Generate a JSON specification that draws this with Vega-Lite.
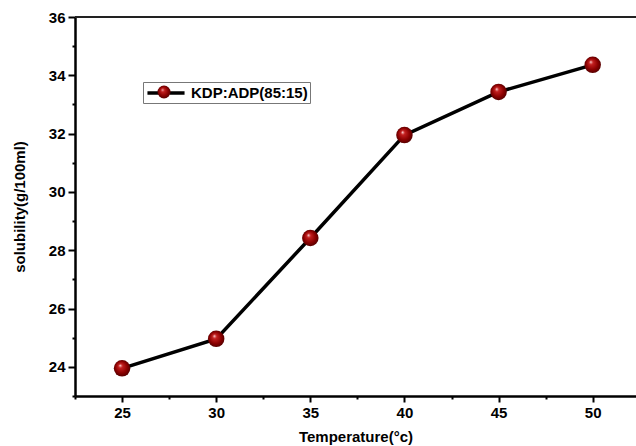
{
  "$schema": "https://vega.github.io/schema/vega-lite/v6.json",
  "width": 561,
  "height": 379,
  "autosize": {"type": "none"},
  "padding": {"left": 75, "top": 17, "right": 0, "bottom": 50},
  "background": "white",
  "config": {
    "view": {"stroke": null},
    "font": "Liberation Sans",
    "axis": {
      "labelFont": "Liberation Sans",
      "labelFontWeight": "bold",
      "labelFontSize": 15,
      "labelColor": "black",
      "titleFont": "Liberation Sans",
      "titleFontWeight": "bold",
      "titleFontSize": 15,
      "titleColor": "black",
      "domainColor": "black",
      "domainWidth": 2.5,
      "tickColor": "black",
      "tickWidth": 2,
      "grid": false
    },
    "legend": {
      "labelFont": "Liberation Sans",
      "labelFontWeight": "bold",
      "labelFontSize": 15,
      "labelColor": "black"
    }
  },
  "data": {
    "values": [
      {"temperature": 25, "solubility": 23.95, "series": "KDP:ADP(85:15)"},
      {"temperature": 30, "solubility": 24.96, "series": "KDP:ADP(85:15)"},
      {"temperature": 35, "solubility": 28.42, "series": "KDP:ADP(85:15)"},
      {"temperature": 40, "solubility": 31.95, "series": "KDP:ADP(85:15)"},
      {"temperature": 45, "solubility": 33.43, "series": "KDP:ADP(85:15)"},
      {"temperature": 50, "solubility": 34.36, "series": "KDP:ADP(85:15)"}
    ]
  },
  "encoding": {
    "x": {
      "field": "temperature",
      "type": "quantitative",
      "scale": {"domain": [22.5, 52.3], "nice": false, "zero": false},
      "axis": {
        "title": "Temperature(°c)",
        "values": [22.5, 25, 27.5, 30, 32.5, 35, 37.5, 40, 42.5, 45, 47.5, 50],
        "labelExpr": "datum.value % 5 === 0 ? datum.label : ''",
        "tickSize": {"condition": {"test": "datum.value % 5 === 0", "value": 6}, "value": 3},
        "labelPadding": 3,
        "titlePadding": 9
      }
    },
    "y": {
      "field": "solubility",
      "type": "quantitative",
      "scale": {"domain": [23, 36], "nice": false, "zero": false},
      "axis": {
        "title": "solubility(g/100ml)",
        "values": [23, 24, 25, 26, 27, 28, 29, 30, 31, 32, 33, 34, 35, 36],
        "labelExpr": "datum.value % 2 === 0 ? datum.label : ''",
        "tickSize": {"condition": {"test": "datum.value % 2 === 0", "value": 7}, "value": 3},
        "labelPadding": 3,
        "titlePadding": 21
      }
    }
  },
  "layer": [
    {
      "mark": {"type": "rule", "color": "#222222", "strokeWidth": 2},
      "encoding": {"y": {"datum": 36}, "x": null}
    },
    {
      "mark": {"type": "line", "strokeWidth": 3.5},
      "encoding": {
        "stroke": {
          "field": "series",
          "type": "nominal",
          "scale": {"range": ["black"]},
          "legend": {
            "title": null,
            "orient": "none",
            "legendX": 68,
            "legendY": 65,
            "padding": 2,
            "strokeColor": "#777777",
            "fillColor": null,
            "symbolType": "M-2.65,0H-0.5M0.5,0H2.65",
            "symbolSize": 196,
            "symbolOffset": 12,
            "symbolStrokeWidth": 3.5,
            "symbolFillColor": "transparent",
            "labelOffset": 16
          }
        }
      }
    },
    {
      "mark": {
        "type": "point",
        "filled": true,
        "size": 272,
        "opacity": 1,
        "fill": {
          "gradient": "radial",
          "x1": 0.38, "y1": 0.32, "r1": 0,
          "x2": 0.5, "y2": 0.5, "r2": 0.55,
          "stops": [
            {"offset": 0, "color": "#ffdede"},
            {"offset": 0.22, "color": "#c42020"},
            {"offset": 0.65, "color": "#8a0000"},
            {"offset": 1, "color": "#4a0000"}
          ]
        }
      },
      "encoding": {
        "shape": {
          "field": "series",
          "type": "nominal",
          "scale": {"domain": ["KDP:ADP(85:15)"], "range": ["circle"]},
          "legend": {
            "title": null,
            "orient": "none",
            "legendX": 82.5,
            "legendY": 68.5,
            "padding": 0,
            "symbolSize": 169,
            "symbolStrokeWidth": 0,
            "labelOpacity": 0,
            "labelFontSize": 1,
            "encode": {
              "symbols": {
                "update": {
                  "opacity": {"value": 1},
                  "fill": {"value": {
                    "gradient": "radial",
                    "x1": 0.38, "y1": 0.32, "r1": 0,
                    "x2": 0.5, "y2": 0.5, "r2": 0.55,
                    "stops": [
                      {"offset": 0, "color": "#ffdede"},
                      {"offset": 0.22, "color": "#c42020"},
                      {"offset": 0.65, "color": "#8a0000"},
                      {"offset": 1, "color": "#4a0000"}
                    ]
                  }}
                }
              }
            }
          }
        }
      }
    }
  ]
}
